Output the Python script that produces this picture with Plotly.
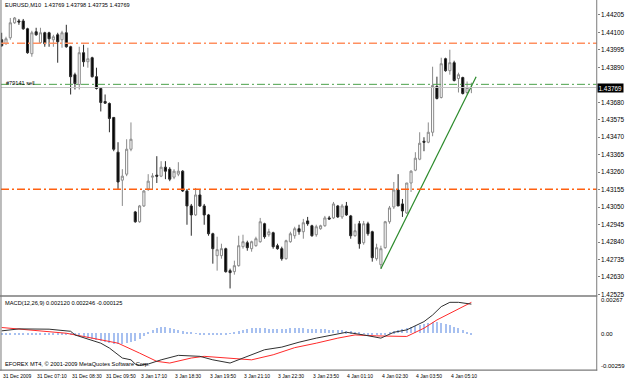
import plotly.graph_objects as go

# ------------------------------------------------------------------ data
bar_index = list(range(110))

open_ = [1.44056, 1.44032, 1.44068, 1.44158, 1.44169, 1.44169, 1.44122, 1.43972, 1.44104, 1.44038,
         1.44098, 1.44098, 1.44056, 1.44086, 1.44056, 1.44098, 1.44014, 1.43846, 1.43787, 1.43978,
         1.43924, 1.43948, 1.43834, 1.43763, 1.43685, 1.43673, 1.43589, 1.43380, 1.43212, 1.43248,
         1.43398, 1.43021, 1.42962, 1.43057, 1.43159, 1.43230, 1.43242, 1.43236, 1.43290, 1.43278,
         1.43230, 1.43248, 1.43266, 1.43147, 1.43057, 1.43003, 1.43123, 1.43057, 1.43003, 1.42890,
         1.42758, 1.42758, 1.42800, 1.42668, 1.42662, 1.42698, 1.42812, 1.42836, 1.42800, 1.42818,
         1.42842, 1.42950, 1.42884, 1.42896, 1.42818, 1.42800, 1.42740, 1.42842, 1.42878, 1.42920,
         1.42902, 1.42967, 1.42938, 1.42884, 1.42920, 1.42938, 1.42985, 1.42985, 1.43057, 1.42991,
         1.43057, 1.42997, 1.42878, 1.42950, 1.42836, 1.42950, 1.42902, 1.42740, 1.42704, 1.42806,
         1.42962, 1.43051, 1.43153, 1.43069, 1.43015, 1.43195, 1.43272, 1.43338, 1.43446, 1.43440,
         1.43500, 1.43775, 1.43709, 1.43942, 1.43870, 1.43918, 1.43823, 1.43829, 1.43739, 1.43769]

high = [1.44098, 1.44074, 1.44187, 1.44193, 1.44181, 1.44181, 1.44128, 1.44110, 1.44128, 1.44128,
        1.44104, 1.44104, 1.44086, 1.44098, 1.44110, 1.44146, 1.44020, 1.43858, 1.44014, 1.44026,
        1.44008, 1.43954, 1.43888, 1.43769, 1.43727, 1.43679, 1.43592, 1.43440, 1.43278, 1.43458,
        1.43559, 1.43027, 1.43063, 1.43153, 1.43248, 1.43254, 1.43356, 1.43326, 1.43326, 1.43290,
        1.43278, 1.43320, 1.43272, 1.43159, 1.43069, 1.43165, 1.43159, 1.43069, 1.43009, 1.42896,
        1.42872, 1.42830, 1.42806, 1.42680, 1.42728, 1.42878, 1.42884, 1.42848, 1.42848, 1.42872,
        1.42985, 1.42956, 1.42920, 1.42902, 1.42830, 1.42812, 1.42854, 1.42902, 1.42932, 1.42944,
        1.42979, 1.42991, 1.42944, 1.42944, 1.42944, 1.42997, 1.42997, 1.43081, 1.43063, 1.43069,
        1.43081, 1.43003, 1.42950, 1.42967, 1.42967, 1.42962, 1.42908, 1.42830, 1.42818, 1.42967,
        1.43057, 1.43201, 1.43248, 1.43099, 1.43195, 1.43272, 1.43380, 1.43500, 1.43470, 1.43559,
        1.43894, 1.43834, 1.43948, 1.43948, 1.43996, 1.43930, 1.43858, 1.43834, 1.43805, 1.43798]

low = [1.44014, 1.44026, 1.44056, 1.44152, 1.44146, 1.44116, 1.43972, 1.43954, 1.44080, 1.44032,
       1.44014, 1.44014, 1.44014, 1.43918, 1.44008, 1.44008, 1.43727, 1.43757, 1.43757, 1.43894,
       1.43888, 1.43829, 1.43757, 1.43625, 1.43670, 1.43500, 1.43386, 1.43159, 1.43057, 1.43236,
       1.43386, 1.42956, 1.42956, 1.43051, 1.43147, 1.43159, 1.43195, 1.43230, 1.43218, 1.43206,
       1.43218, 1.43236, 1.43141, 1.42944, 1.42878, 1.42997, 1.43051, 1.42944, 1.42878, 1.42710,
       1.42668, 1.42740, 1.42656, 1.42561, 1.42644, 1.42692, 1.42800, 1.42788, 1.42782, 1.42812,
       1.42836, 1.42860, 1.42872, 1.42800, 1.42794, 1.42728, 1.42734, 1.42836, 1.42860, 1.42884,
       1.42860, 1.42938, 1.42872, 1.42872, 1.42914, 1.42932, 1.42973, 1.42979, 1.42985, 1.42979,
       1.42997, 1.42860, 1.42872, 1.42800, 1.42824, 1.42878, 1.42722, 1.42728, 1.42680, 1.42800,
       1.42950, 1.43039, 1.43057, 1.42991, 1.43009, 1.43141, 1.43266, 1.43332, 1.43386, 1.43434,
       1.43476, 1.43697, 1.43703, 1.43864, 1.43846, 1.43805, 1.43739, 1.43727, 1.43727, 1.43735]

close = [1.44020, 1.44062, 1.44158, 1.44187, 1.44163, 1.44122, 1.43978, 1.44098, 1.44086, 1.44098,
         1.44032, 1.44062, 1.44074, 1.44044, 1.44098, 1.44014, 1.43834, 1.43793, 1.43978, 1.43924,
         1.43942, 1.43834, 1.43763, 1.43679, 1.43675, 1.43583, 1.43398, 1.43201, 1.43236, 1.43398,
         1.43458, 1.42962, 1.43057, 1.43147, 1.43206, 1.43236, 1.43236, 1.43290, 1.43266, 1.43218,
         1.43266, 1.43266, 1.43147, 1.43057, 1.43003, 1.43123, 1.43057, 1.43003, 1.42890, 1.42800,
         1.42794, 1.42800, 1.42662, 1.42656, 1.42698, 1.42818, 1.42842, 1.42806, 1.42842, 1.42860,
         1.42962, 1.42872, 1.42902, 1.42812, 1.42800, 1.42740, 1.42848, 1.42890, 1.42920, 1.42902,
         1.42956, 1.42950, 1.42878, 1.42932, 1.42938, 1.42985, 1.42979, 1.43069, 1.42991, 1.43057,
         1.43003, 1.42878, 1.42908, 1.42830, 1.42950, 1.42890, 1.42746, 1.42806, 1.42800, 1.42962,
         1.43045, 1.43153, 1.43057, 1.43027, 1.43195, 1.43266, 1.43344, 1.43434, 1.43440, 1.43500,
         1.43781, 1.43703, 1.43912, 1.43870, 1.43918, 1.43811, 1.43846, 1.43733, 1.43769, 1.43769]

# MACD main line (black) and signal line (red), read at selected bars
macd_x = [0, 4, 11, 16, 17, 23, 25, 27, 28, 30, 31, 32, 34, 37, 41, 46, 49, 53, 55, 58, 61, 65,
          69, 73, 80, 84, 88, 91, 94, 98, 100, 102, 104, 106, 108, 109]
macd_v = [0.00021, 0.00035, 0.00033, 0.00018, -0.00008, -0.00067, -0.00102, -0.00150, -0.00173,
          -0.00186, -0.00216, -0.00225, -0.00216, -0.00186, -0.00154, -0.00161, -0.00186, -0.00209,
          -0.00186, -0.00150, -0.00114, -0.00095, -0.00060, -0.00031, 0.00011, -0.00008, -0.00031,
          0.00011, 0.00028, 0.00087, 0.00134, 0.00194, 0.00225, 0.00225, 0.00216, 0.002120]
signal_x = [0, 7, 15, 19, 27, 32, 36, 39, 44, 47, 53, 58, 63, 68, 73, 78, 82, 87, 94, 98, 101,
            104, 107, 109]
signal_v = [0.00045, 0.00028, 0.00004, -0.00019, -0.00067, -0.00138, -0.00197, -0.00209, -0.00173,
            -0.00161, -0.00173, -0.00186, -0.00150, -0.00099, -0.00067, -0.00031, -0.00008, -0.00015,
            -0.00019, 0.00040, 0.00099, 0.00146, 0.00194, 0.002246]
hist_v = [-0.00011] * 15 + [-0.00014] * 4 + [
    -0.00028, -0.00036, -0.00043, -0.00050, -0.00057, -0.00064, -0.00071, -0.00078, -0.00078,
    -0.00078, -0.00071, -0.00064, -0.00057, -0.00043, -0.00021, 0.00007, 0.00021, 0.00036,
    0.00043, 0.00043, 0.00036, 0.00028, 0.00021, 0.00014, 0.00007, 0.00007, 0.00002, -0.00007,
    -0.00007, -0.00007, -0.00007, -0.00007, -0.00007, -0.00007, 0.00002, 0.00007, 0.00014,
    0.00021, 0.00028, 0.00036, 0.00036, 0.00036, 0.00036, 0.00028, 0.00028, 0.00028, 0.00028,
    0.00028, 0.00036, 0.00036, 0.00036, 0.00036, 0.00028, 0.00028, 0.00028, 0.00028, 0.00028,
    0.00021, 0.00021, 0.00021, 0.00021, 0.00014, 0.00014, 0.00007, 0.00007, 0.00002, -0.00007,
    -0.00007, -0.00014, -0.00014, -0.00007, 0.00007, 0.00014, 0.00021, 0.00028, 0.00036, 0.00043,
    0.00050, 0.00057, 0.00064, 0.00071, 0.00078, 0.00078, 0.00071, 0.00064, 0.00057, 0.00043,
    0.00036, 0.00021, 0.00007, -0.000125]

# price scale labels (1.43785 is hidden behind the current-price box in the original)
price_ticks = [1.42525, 1.42630, 1.42735, 1.42840, 1.42945, 1.43050, 1.43155, 1.43260, 1.43365,
               1.43470, 1.43575, 1.43680, 1.43890, 1.43995, 1.44100, 1.44205]
price_range = [1.42519, 1.44295]
macd_range = [-0.00259, 0.00267]
macd_labels = ["0.00267", "0.00", "-0.00259"]
macd_label_vals = [0.00267, 0.0, -0.00259]

time_idx = [0, 8, 16, 24, 32, 40, 48, 56, 64, 72, 80, 88, 96, 104]
time_labels = ["31 Dec 2009", "31 Dec 07:10", "31 Dec 08:30", "31 Dec 09:50", "3 Jan 17:10",
               "3 Jan 18:30", "3 Jan 19:50", "3 Jan 21:10", "3 Jan 22:30", "3 Jan 23:50",
               "4 Jan 01:10", "4 Jan 02:30", "4 Jan 03:50", "4 Jan 05:10"]

level_upper = 1.44035
level_lower = 1.43157
order_price = 1.43788
order_label = "#79141 sell"
bid_price = close[-1]
trend_x = [88, 110.1]
trend_y = [1.42680, 1.43833]

symbol = "EURUSD,M10"
macd_title = "MACD(12,26,9) 0.002120 0.002246 -0.000125"
copyright_text = "EFOREX MT4, \u00a9 2001-2009 MetaQuotes Software Corp."

# ------------------------------------------------------------------ layout helpers
W, H = 625, 381
FONT = "Liberation Sans"


def px(x):
    return x / W


def py(y):
    return 1 - y / H


fig = go.Figure()

fig.add_trace(go.Candlestick(
    x=bar_index, open=open_, high=high, low=low, close=close,
    increasing=dict(line=dict(color="#8a8a8a", width=1), fillcolor="#ffffff"),
    decreasing=dict(line=dict(color="#2a2a2a", width=1), fillcolor="#000000"),
    whiskerwidth=0, xaxis="x", yaxis="y", showlegend=False, hoverinfo="skip"))

fig.add_trace(go.Bar(x=bar_index, y=hist_v, width=0.24, marker=dict(color="#a7c0f0", line=dict(width=0)),
                     xaxis="x2", yaxis="y2", showlegend=False, hoverinfo="skip"))
fig.add_trace(go.Scatter(x=signal_x, y=signal_v, mode="lines", line=dict(color="#ff2a2a", width=1),
                         xaxis="x2", yaxis="y2", showlegend=False, hoverinfo="skip"))
fig.add_trace(go.Scatter(x=macd_x, y=macd_v, mode="lines", line=dict(color="#303030", width=1),
                         xaxis="x2", yaxis="y2", showlegend=False, hoverinfo="skip"))

# trend line
fig.add_trace(go.Scatter(x=trend_x, y=trend_y, mode="lines", line=dict(color="#2a8a2a", width=1.2),
                         xaxis="x", yaxis="y", showlegend=False, hoverinfo="skip"))

xdom = [px(1), px(603.5)]
xr = [-0.16, 138.09]
fig.update_layout(
    width=W, height=H, margin=dict(l=0, r=0, t=0, b=0),
    paper_bgcolor="white", plot_bgcolor="white",
    font=dict(family=FONT, size=6, color="black"),
    xaxis=dict(domain=xdom, range=xr, anchor="y", showticklabels=False, showgrid=False,
               zeroline=False, showline=False, rangeslider=dict(visible=False), fixedrange=True),
    xaxis2=dict(domain=xdom, range=xr, anchor="y2", showticklabels=False, showgrid=False,
                zeroline=False, showline=False, fixedrange=True),
    yaxis=dict(domain=[py(297), 1], range=price_range, side="right", anchor="x",
               tickvals=price_ticks, ticktext=[f"{v:.5f}" for v in price_ticks],
               ticks="outside", ticklen=2, tickcolor="#808080", tickfont=dict(size=6.4),
               showgrid=False, zeroline=False, showline=False, fixedrange=True),
    yaxis2=dict(domain=[py(372), py(298)], range=macd_range, side="right", anchor="x2",
                showticklabels=False, ticks="", showgrid=False, zeroline=False, showline=False,
                fixedrange=True),
    bargap=0,
)

shapes = []
dd = "8px,3px,2px,3px"
# horizontal levels
shapes.append(dict(type="line", xref="paper", yref="y", x0=px(1), x1=px(603.5), y0=level_upper,
                   y1=level_upper, line=dict(color="#ff9060", width=1.4, dash=dd)))
shapes.append(dict(type="line", xref="paper", yref="y", x0=px(1), x1=px(603.5), y0=level_lower,
                   y1=level_lower, line=dict(color="#ff6010", width=1.4, dash=dd)))
shapes.append(dict(type="line", xref="paper", yref="y", x0=px(1), x1=px(603.5), y0=bid_price,
                   y1=bid_price, line=dict(color="#c4c4c4", width=1)))
shapes.append(dict(type="line", xref="paper", yref="y", x0=px(1), x1=px(603.5), y0=order_price,
                   y1=order_price, line=dict(color="#4aa04a", width=1, dash=dd)))
# frame
border = "#7a7a7a"
shapes.append(dict(type="line", xref="paper", yref="paper", x0=px(603.5), x1=px(603.5), y0=py(372.5),
                   y1=1, line=dict(color=border, width=1)))
shapes.append(dict(type="line", xref="paper", yref="paper", x0=px(1), x1=px(1), y0=py(372.5),
                   y1=1, line=dict(color=border, width=1)))
shapes.append(dict(type="line", xref="paper", yref="paper", x0=0, x1=px(604), y0=py(297.5),
                   y1=py(297.5), line=dict(color=border, width=1.6)))
shapes.append(dict(type="line", xref="paper", yref="paper", x0=0, x1=px(604), y0=py(372),
                   y1=py(372), line=dict(color=border, width=1.2)))
fig.update_layout(shapes=shapes)

ann = []
ann.append(dict(xref="paper", yref="paper", x=px(3), y=py(5), xanchor="left", yanchor="middle",
                text=f"{symbol}\u00a0\u00a0{open_[-1]:.5f} {high[-1]:.5f} {low[-1]:.5f} {close[-1]:.5f}",
                showarrow=False, font=dict(size=5.6)))
ann.append(dict(xref="paper", yref="paper", x=px(4), y=py(83.3), xanchor="left", yanchor="middle",
                text=order_label, showarrow=False, font=dict(size=5.6)))
ann.append(dict(xref="paper", yref="paper", x=px(3), y=py(304.5), xanchor="left", yanchor="middle",
                text=macd_title, showarrow=False, font=dict(size=5.7)))
ann.append(dict(xref="paper", yref="paper", x=px(3), y=py(366), xanchor="left", yanchor="middle",
                text=copyright_text, showarrow=False, font=dict(size=5.7)))
for i, t in zip(time_idx, time_labels):
    ann.append(dict(xref="x", yref="paper", x=i, y=py(377.5), xanchor="left", yanchor="middle",
                    xshift=-1, text=t, showarrow=False, font=dict(size=5)))
for v, t, yy in zip(macd_label_vals, macd_labels, [301.7, 335.7, 368]):
    ann.append(dict(xref="paper", yref="paper", x=px(605.5), y=py(yy), xanchor="left",
                    yanchor="middle", text=t, showarrow=False, font=dict(size=6)))
ann.append(dict(xref="paper", yref="y", x=px(604), y=bid_price, xanchor="left", yanchor="middle",
                text=f"{bid_price:.5f}", showarrow=False, bgcolor="black", borderpad=0.5,
                font=dict(size=6.4, color="white")))
fig.update_layout(annotations=ann)

fig.write_html("out.html")
